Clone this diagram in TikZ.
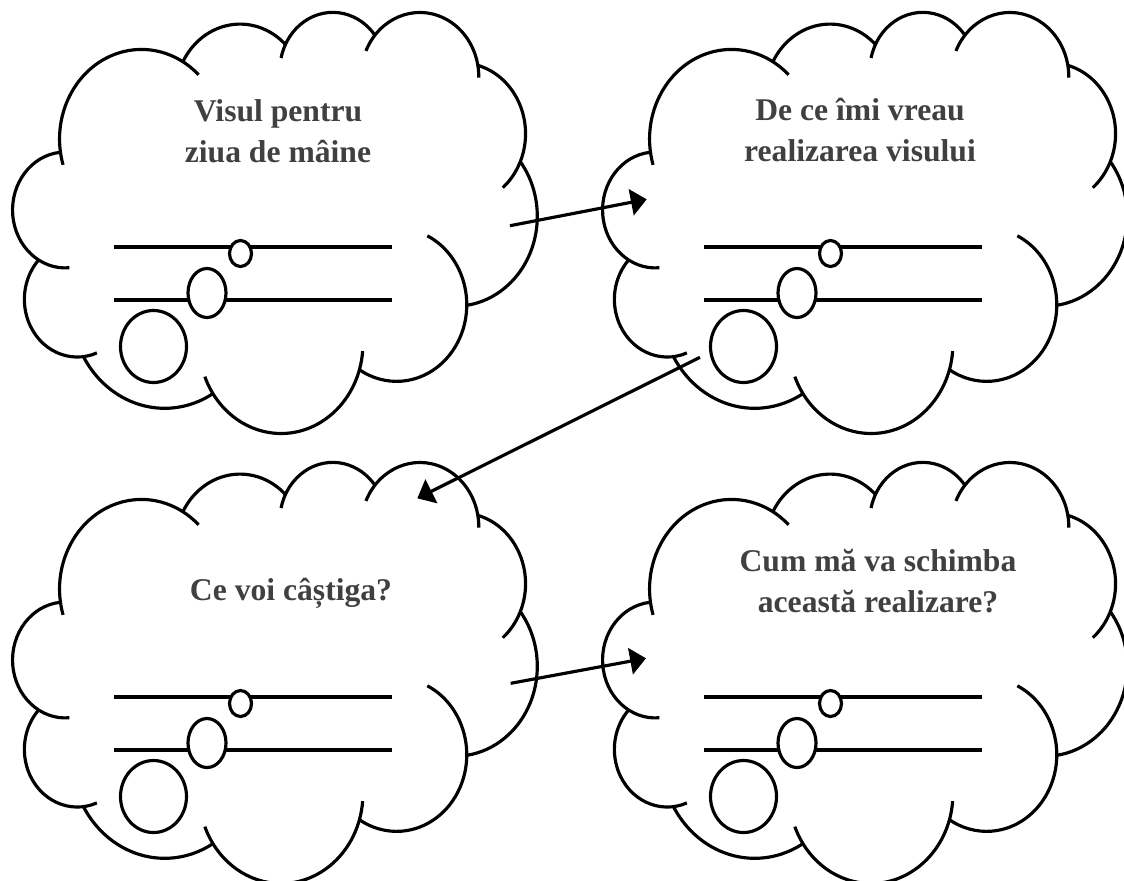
\documentclass[tikz,border=0pt]{standalone}
\usepackage{fontspec}
\setmainfont{Liberation Serif}
\usetikzlibrary{arrows.meta}
\definecolor{cloudtext}{RGB}{64,64,64}
\tikzset{%
	cloud line/.style={
		line width=1.8pt
	},
	bubble/.style={
		line width=1.8pt,
		fill=white
	},
	cloud text/.style={
		text=cloudtext,
		font=\fontsize{18}{23.3}\selectfont\bfseries,
		align=center,
		anchor=base
	},
	link/.style={
		line width=1.8pt,
		-{Triangle[length=9pt, width=15pt]}
	},
	thoughtcloud/.pic={
		% lobes: centre, radii, start and end angle
		\begin{scope}[shift={(13,11)}, xscale=12.13, yscale=9.745]
			\foreach \cx/\cy/\rx/\ry/\a/\b in {
				10.591/13.131/6.753/9.190/163.196/314.243,
				18.716/8.610/5.333/7.267/-152.035/-45.438,
				26.365/6.085/4.365/5.945/-167.726/-37.309,
				33.542/6.746/4.857/6.595/-156.281/0.821,
				36.921/12.594/5.333/7.273/-74.768/49.641,
				36.448/21.074/6.775/9.220/-37.513/81.862,
				31.622/30.138/5.785/7.867/-64.025/121.978,
				22.096/34.141/6.752/9.215/4.738/158.473,
				12.505/30.226/7.720/10.543/58.986/150.194,
				5.297/29.589/4.360/5.918/68.236/223.077,
				4.308/20.418/4.345/5.945/85.547/264.113}
				\draw[cloud line] (\cx,\cy) ++({\rx*cos(\a)},{\ry*sin(\a)})
					arc[start angle=\a, end angle=\b, x radius=\rx, y radius=\ry];
		\end{scope}
		\draw[cloud line] (114,247) -- (392,247);
		\draw[cloud line] (114,300) -- (392,300);
		\draw[bubble] (240.5,253.5) ellipse [x radius=11, y radius=13];
		\draw[bubble] (207,293) ellipse [x radius=19, y radius=24.5];
		\draw[bubble] (153.5,346.5) ellipse [x radius=33, y radius=36];
	}
}

\begin{document}
\begin{tikzpicture}[x=0.02cm, y=-0.02cm]
	\useasboundingbox (0,0) rectangle (1124,880);

	\pic at (0,0) {thoughtcloud};
	\pic at (590,0) {thoughtcloud};
	\pic at (0,450) {thoughtcloud};
	\pic at (590,450) {thoughtcloud};

	\node[cloud text] (dream) at (278,162) {Visul pentru\\ziua de mâine};
	\node[cloud text] (why) at (860,161) {De ce îmi vreau\\realizarea visului};
	\node[cloud text] (gain) at (291,600) {Ce voi câștiga?};
	\node[cloud text] (change) at (878,612) {Cum mă va schimba\\această realizare?};

	\coordinate (dream-out) at (510,225.7);
	\coordinate (why-in) at (646.7,199.3);
	\coordinate (why-out) at (700,357.3);
	\coordinate (gain-in) at (417.3,498.3);
	\coordinate (gain-out) at (510.7,683.3);
	\coordinate (change-in) at (646,658.3);

	\draw[link] (dream-out) -- (why-in);
	\draw[link] (why-out) -- (gain-in);
	\draw[link] (gain-out) -- (change-in);
\end{tikzpicture}
\end{document}
